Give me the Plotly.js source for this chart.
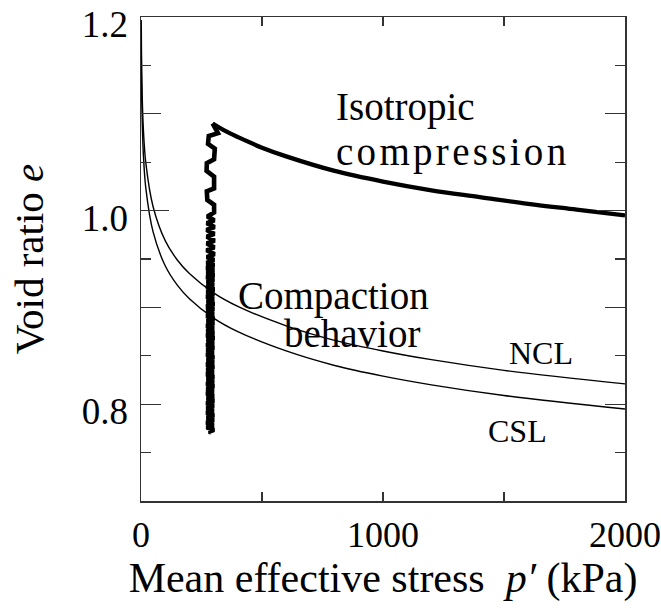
<!DOCTYPE html>
<html>
<head>
<meta charset="utf-8">
<script src="https://cdn.plot.ly/plotly-3.0.1.min.js"></script>
<style>html,body{margin:0;padding:0;background:#fff;}#chart{width:661px;height:610px;}</style>
</head>
<body>
<div id="chart"></div>
<script>
// Normal consolidation line (NCL)
const nclP = [1, 2, 5, 10, 20, 50, 100, 150, 200, 300, 400, 600, 800, 1000, 1200, 1500, 2000];
const nclE = [1.197, 1.163, 1.118, 1.083, 1.049, 1.004, 0.969, 0.949, 0.935, 0.915, 0.901, 0.881, 0.866, 0.855, 0.846, 0.835, 0.821];
// Critical state line (CSL)
const cslP = [1, 2, 5, 10, 20, 50, 100, 150, 200, 300, 400, 600, 800, 1000, 1200, 1500, 2000];
const cslE = [1.171, 1.137, 1.092, 1.057, 1.023, 0.978, 0.943, 0.923, 0.909, 0.889, 0.875, 0.855, 0.840, 0.829, 0.820, 0.809, 0.795];
// Isotropic compression
const isoP = [296, 350, 400, 500, 600, 800, 1000, 1200, 1400, 1600, 1800, 2000];
const isoE = [1.090, 1.082, 1.076, 1.065, 1.056, 1.041, 1.030, 1.021, 1.014, 1.007, 1.001, 0.995];
// Compaction behavior (cyclic loading at constant p')
const compP = [296, 318, 280, 277, 305, 302, 272, 271, 302, 302, 272, 274, 302, 302, 274,
  303, 272, 304, 271, 303, 272, 304, 272, 303, 271, 304, 272, 302, 271,
  303, 270, 302, 271, 303, 270, 302, 272, 301, 270,
  303, 271, 302, 270, 301, 272, 303, 270, 302, 271,
  301, 270, 303, 272, 302, 270, 301, 271, 302, 270,
  303, 272, 301, 270, 302, 271, 300, 270, 302, 272,
  301, 270, 302, 271, 300, 270, 302, 272, 301, 270,
  302, 271, 300, 270, 301, 272, 302, 270, 301, 271,
  300, 270, 302, 272, 301, 270, 300, 271, 302,
  280, 290];
const compE = [1.090, 1.080, 1.077, 1.069, 1.064, 1.053, 1.049, 1.041, 1.035, 1.023, 1.020, 1.011, 1.006, 0.998, 0.994,
  0.990, 0.987, 0.983, 0.980, 0.976, 0.973, 0.969, 0.966, 0.962, 0.959, 0.955, 0.952, 0.949, 0.946,
  0.9435, 0.941, 0.9385, 0.936, 0.9335, 0.931, 0.9285, 0.926, 0.9235, 0.921,
  0.9185, 0.916, 0.9135, 0.911, 0.9085, 0.906, 0.9035, 0.901, 0.8985, 0.896,
  0.8935, 0.891, 0.8885, 0.886, 0.8835, 0.881, 0.8785, 0.876, 0.8735, 0.871,
  0.8685, 0.866, 0.8635, 0.861, 0.8585, 0.856, 0.8535, 0.851, 0.8485, 0.846,
  0.8435, 0.841, 0.8385, 0.836, 0.8335, 0.831, 0.8285, 0.826, 0.8235, 0.821,
  0.8185, 0.816, 0.8135, 0.811, 0.8085, 0.806, 0.8035, 0.801, 0.7985, 0.796,
  0.7935, 0.791, 0.7885, 0.786, 0.7835, 0.781, 0.7785, 0.776, 0.7735,
  0.7715, 0.771];
// Axis ticks
const xTickVals = [0, 1000, 2000];
const xTickText = ['0', '1000', '2000'];
const yTickVals = [0.7, 0.8, 0.9, 1.0, 1.1, 1.2];
const yTickText = ['', '0.8', '', '1.0', '', '1.2'];

const F = "'Liberation Serif', 'Times New Roman', Times, serif";
const lineCol = '#333';

const traces = [
  {x: nclP, y: nclE, mode: 'lines', line: {color: '#000', width: 1.4, shape: 'spline'}, hoverinfo: 'skip'},
  {x: cslP, y: cslE, mode: 'lines', line: {color: '#000', width: 1.4, shape: 'spline'}, hoverinfo: 'skip'},
  {x: compP, y: compE, mode: 'lines', line: {color: '#000', width: 4.6}, hoverinfo: 'skip'},
  {x: isoP, y: isoE, mode: 'lines', line: {color: '#000', width: 4.3, shape: 'spline'}, hoverinfo: 'skip'},
  {x: [1000], y: [1.0], yaxis: 'y2', mode: 'markers', marker: {opacity: 0}, hoverinfo: 'skip'}
];

const layout = {
  width: 661, height: 610,
  margin: {l: 141, r: 36, t: 17, b: 109},
  paper_bgcolor: '#fff', plot_bgcolor: '#fff',
  showlegend: false,
  font: {family: F, color: '#000'},
  xaxis: {
    range: [0, 2000], tickvals: xTickVals, ticktext: xTickText,
    ticks: 'inside', ticklen: 9, tickwidth: 1.3, tickcolor: lineCol,
    minor: {dtick: 500, ticks: 'inside', ticklen: 9, tickwidth: 1.3, tickcolor: lineCol},
    showline: true, linecolor: lineCol, linewidth: 1.5, mirror: 'allticks',
    showgrid: false, zeroline: false,
    tickfont: {family: F, size: 36, color: '#000'}, ticklabelstandoff: 1, ticklabeloverflow: 'allow',
    title: {text: 'Mean effective stress  <i>p′</i> (kPa)', font: {family: F, size: 42, color: '#000'}, standoff: 0}
  },
  yaxis: {
    range: [0.7, 1.2], tickvals: yTickVals, ticktext: yTickText,
    ticks: 'inside', ticklen: 20, tickwidth: 1.3, tickcolor: lineCol,
    minor: {dtick: 0.05, ticks: 'inside', ticklen: 10, tickwidth: 1.3, tickcolor: lineCol},
    showline: true, linecolor: lineCol, linewidth: 1.5, mirror: 'allticks',
    showgrid: false, zeroline: false,
    tickfont: {family: F, size: 37, color: '#000'}, ticklabelstandoff: 4, ticklabelshift: 7, ticklabeloverflow: 'allow',
    title: {text: 'Void ratio <i>e</i>', font: {family: F, size: 41, color: '#000'}, standoff: 25}
  },
  yaxis2: {
    overlaying: 'y', range: [0.7, 1.2], tickvals: [1.0],
    ticks: 'inside', ticklen: 28, tickwidth: 1.3, tickcolor: lineCol,
    showline: true, linecolor: lineCol, linewidth: 1.5, mirror: 'ticks',
    showticklabels: false, showgrid: false, zeroline: false
  },
  annotations: [
    {x: 797, y: 1.107, xref: 'x', yref: 'y', xanchor: 'left', yanchor: 'middle', text: 'Isotropic', showarrow: false, font: {family: F, size: 39, color: '#000'}},
    {x: 797, y: 1.061, xref: 'x', yref: 'y', xanchor: 'left', yanchor: 'middle', text: '<span style="letter-spacing:3.3px">compression</span>', showarrow: false, font: {family: F, size: 39, color: '#000'}},
    {x: 797, y: 0.912, xref: 'x', yref: 'y', xanchor: 'center', yanchor: 'middle', text: 'Compaction', showarrow: false, font: {family: F, size: 39, color: '#000'}},
    {x: 872, y: 0.873, xref: 'x', yref: 'y', xanchor: 'center', yanchor: 'middle', text: 'behavior', showarrow: false, font: {family: F, size: 39, color: '#000'}},
    {x: 1653, y: 0.853, xref: 'x', yref: 'y', xanchor: 'center', yanchor: 'middle', text: 'NCL', showarrow: false, font: {family: F, size: 32, color: '#000'}},
    {x: 1555, y: 0.772, xref: 'x', yref: 'y', xanchor: 'center', yanchor: 'middle', text: 'CSL', showarrow: false, font: {family: F, size: 32, color: '#000'}}
  ]
};

Plotly.newPlot('chart', traces, layout, {staticPlot: true, displayModeBar: false});
</script>
</body>
</html>
